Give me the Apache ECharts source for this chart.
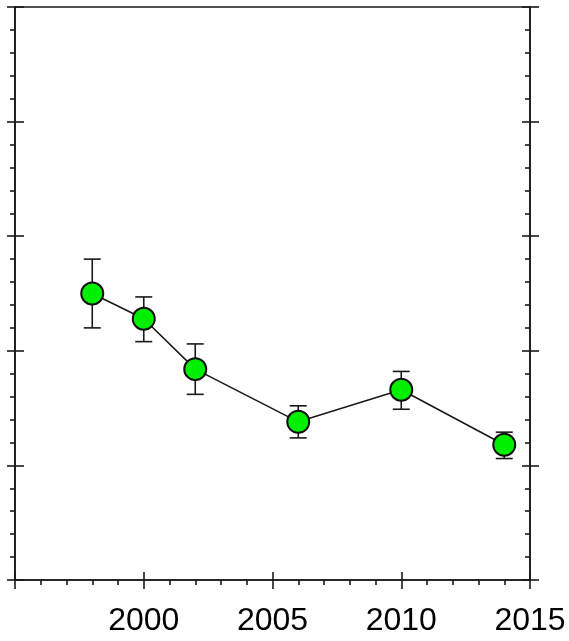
<!DOCTYPE html>
<html>
<head>
<meta charset="utf-8">
<script src="https://cdn.jsdelivr.net/npm/echarts@6/dist/echarts.min.js"></script>
<style>
html,body{margin:0;padding:0;background:#fff;}
#c{width:569px;height:641px;}
</style>
</head>
<body>
<div id="c"></div>
<script>
var years = [1998, 2000, 2002, 2006, 2010, 2014];
var means = [2.50, 2.28, 1.84, 1.38, 1.66, 1.18];
var lows  = [2.20, 2.08, 1.62, 1.24, 1.49, 1.06];
var highs = [2.80, 2.47, 2.06, 1.52, 1.82, 1.29];
var xTickLabels = ['2000', '2005', '2010', '2015'];

var X_MIN = 1995, X_MAX = 2015, Y_MIN = 0, Y_MAX = 5;
var AX = '#1a1a1a';
var FONT = '"Liberation Sans", Arial, sans-serif';

function xAx(opt) {
  var base = {
    type: 'value', min: X_MIN, max: X_MAX, interval: 5,
    position: 'bottom', splitLine: {show: false},
    axisLine: {show: true, onZero: false, lineStyle: {color: AX, width: 1.6}},
    axisTick: {show: false}, axisLabel: {show: false}, minorTick: {show: false}
  };
  return Object.assign(base, opt);
}
function yAx(opt) {
  var base = {
    type: 'value', min: Y_MIN, max: Y_MAX, interval: 1,
    splitLine: {show: false},
    axisLine: {show: true, onZero: false, lineStyle: {color: AX, width: 1.6}},
    axisTick: {show: false}, axisLabel: {show: false}, minorTick: {show: false}
  };
  return Object.assign(base, opt);
}

var chart = echarts.init(document.getElementById('c'), null, {renderer: 'canvas'});
var option = {
  animation: false,
  backgroundColor: '#fff',
  grid: {left: 15, right: 39, top: 7, bottom: 61, containLabel: false},
  xAxis: [
    xAx({
      axisTick: {show: true, inside: false, length: 9, lineStyle: {color: AX, width: 1.6}},
      minorTick: {show: true, splitNumber: 5, length: 5, lineStyle: {color: AX, width: 1.6}},
      axisLabel: {
        show: true, margin: 25, fontSize: 32, color: '#000', fontFamily: FONT,
        formatter: function (v) { var s = String(v); return xTickLabels.indexOf(s) >= 0 ? s : ''; }
      }
    }),
    xAx({
      axisTick: {show: true, inside: true, length: 8, lineStyle: {color: AX, width: 1.6}}
    }),
    xAx({position: 'top'})
  ],
  yAxis: [
    yAx({
      position: 'left',
      axisTick: {show: true, inside: false, length: 8, lineStyle: {color: AX, width: 1.6}},
      minorTick: {show: true, splitNumber: 5, length: 5, lineStyle: {color: AX, width: 1.6}}
    }),
    yAx({
      position: 'left',
      axisTick: {show: true, inside: true, length: 9, lineStyle: {color: AX, width: 1.6}}
    }),
    yAx({
      position: 'right',
      axisTick: {show: true, inside: false, length: 9, lineStyle: {color: AX, width: 1.6}}
    }),
    yAx({
      position: 'right',
      axisTick: {show: true, inside: true, length: 8, lineStyle: {color: AX, width: 1.6}},
      minorTick: {show: true, splitNumber: 5, length: 5, lineStyle: {color: AX, width: 1.6}}
    })
  ],
  series: [
    {
      type: 'custom',
      xAxisIndex: 0, yAxisIndex: 0,
      z: 1,
      data: years.map(function (y, i) { return [y, lows[i], highs[i]]; }),
      renderItem: function (params, api) {
        var x = api.value(0);
        var lo = api.coord([x, api.value(1)]);
        var hi = api.coord([x, api.value(2)]);
        var hw = 8.5;
        var st = {stroke: AX, lineWidth: 1.6, fill: null};
        return {
          type: 'group',
          children: [
            {type: 'line', shape: {x1: lo[0], y1: lo[1], x2: hi[0], y2: hi[1]}, style: st},
            {type: 'line', shape: {x1: lo[0] - hw, y1: lo[1], x2: lo[0] + hw, y2: lo[1]}, style: st},
            {type: 'line', shape: {x1: hi[0] - hw, y1: hi[1], x2: hi[0] + hw, y2: hi[1]}, style: st}
          ]
        };
      }
    },
    {
      type: 'line',
      xAxisIndex: 0, yAxisIndex: 0,
      z: 2,
      data: years.map(function (y, i) { return [y, means[i]]; }),
      symbol: 'none',
      lineStyle: {color: AX, width: 1.6}
    },
    {
      type: 'scatter',
      xAxisIndex: 0, yAxisIndex: 0,
      z: 3,
      data: years.map(function (y, i) { return [y, means[i]]; }),
      symbol: 'circle',
      symbolSize: 22,
      itemStyle: {color: '#00f000', borderColor: '#111', borderWidth: 2, opacity: 1}
    }
  ]
};
chart.setOption(option);
</script>
</body>
</html>
